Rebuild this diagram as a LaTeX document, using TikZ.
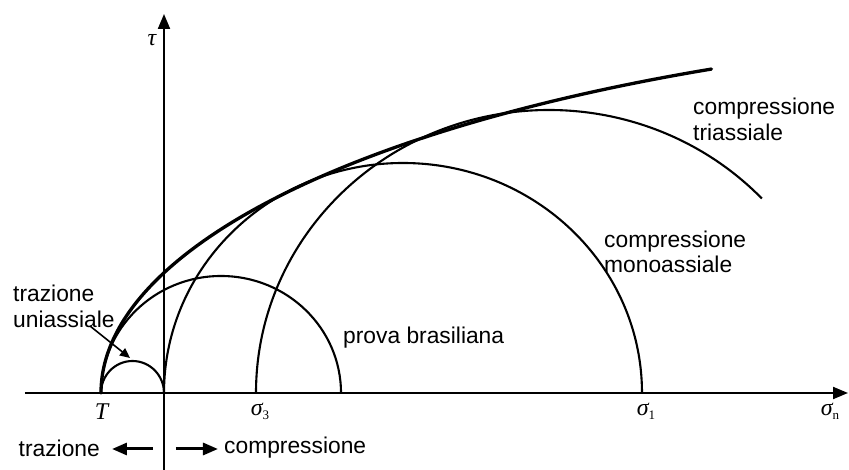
\documentclass[tikz,border=0pt]{standalone}
\usepackage{fontspec}
\setmainfont{Liberation Sans}
\newfontfamily\symfont{Liberation Serif}
\usetikzlibrary{arrows.meta}
\newcommand{\sgm}[1]{{\itshape σ}\raisebox{-0.35ex}{\fontsize{13}{13}\selectfont #1}}
\begin{document}
\begin{tikzpicture}[x=1pt,y=1pt,
  axis/.style={line width=2.1pt,-{Triangle[length=15pt,width=12pt]}},
  curve/.style={line width=2.1pt},
  env/.style={line width=3.3pt,line join=round,line cap=round},
  lbl/.style={inner sep=0pt,font=\fontsize{22.8}{25.5}\selectfont,align=left},
  sym/.style={inner sep=0pt,font=\symfont\fontsize{24}{26}\selectfont},
  dirarrow/.style={line width=3pt,-{Triangle[length=15pt,width=12pt]}},
  ptr/.style={line width=1.6pt,-{Triangle[length=10pt,width=9pt]}}
]
\useasboundingbox (-164,-77) rectangle (685,393);
% axes
\coordinate (sL) at (-139,0);
\coordinate (sR) at (684,0);
\coordinate (tB) at (0,-77);
\coordinate (tT) at (0,379);
\draw[axis] (sL) -- (sR);
\draw[axis] (tB) -- (tT);
% points on the sigma axis
\coordinate (T) at (-63,0);
\coordinate (O) at (0,0);
\coordinate (S3) at (92,0);
\coordinate (S1) at (478,0);
% Mohr circles
\draw[curve] (T) arc[start angle=180,end angle=0,x radius=31.5,y radius=32];
\draw[curve] (T) arc[start angle=180,end angle=0,x radius=120,y radius=117];
\draw[curve] (O) arc[start angle=180,end angle=0,x radius=239,y radius=230];
\draw[curve] (S3) arc[start angle=180,end angle=43.4,x radius=293,y radius=283];
% envelope
\draw[env] plot[domain=0:3.24,samples=120,variable=\t]
  ({(236-100*sqrt(5.5696-0.42*\t*\t))/0.21-63},{100*\t});
% symbols
\node[sym] (tau) at (-12,353) {\itshape τ};
\node[sym] (lT) at (-62.5,-19) {\itshape T};
\node[sym] (ls3) at (96,-18) {\sgm{3}};
\node[sym] (ls1) at (482,-18) {\sgm{1}};
\node[sym] (lsn) at (666,-18) {\sgm{n}};
% labels
\node[lbl,anchor=west] (ct) at (529,273.5) {compressione\\triassiale};
\node[lbl,anchor=west] (cm) at (440,141) {compressione\\monoassiale};
\node[lbl,anchor=west] (pb) at (179,55) {prova brasiliana};
\node[lbl,anchor=west] (tu) at (-151,86.5) {trazione\\uniassiale};
\node[lbl,anchor=east] (tz) at (-64,-55) {trazione};
\node[lbl,anchor=west] (cp) at (60,-55) {compressione};
% pointer to the small circle
\coordinate (pa) at (-74,67);
\coordinate (pe) at (-34,35);
\draw[ptr] (pa) -- (pe);
% direction arrows
\coordinate (la) at (-11,-56);
\coordinate (lb) at (-52,-56);
\draw[dirarrow] (la) -- (lb);
\coordinate (ra) at (12,-56);
\coordinate (rb) at (54,-56);
\draw[dirarrow] (ra) -- (rb);
\end{tikzpicture}
\end{document}
